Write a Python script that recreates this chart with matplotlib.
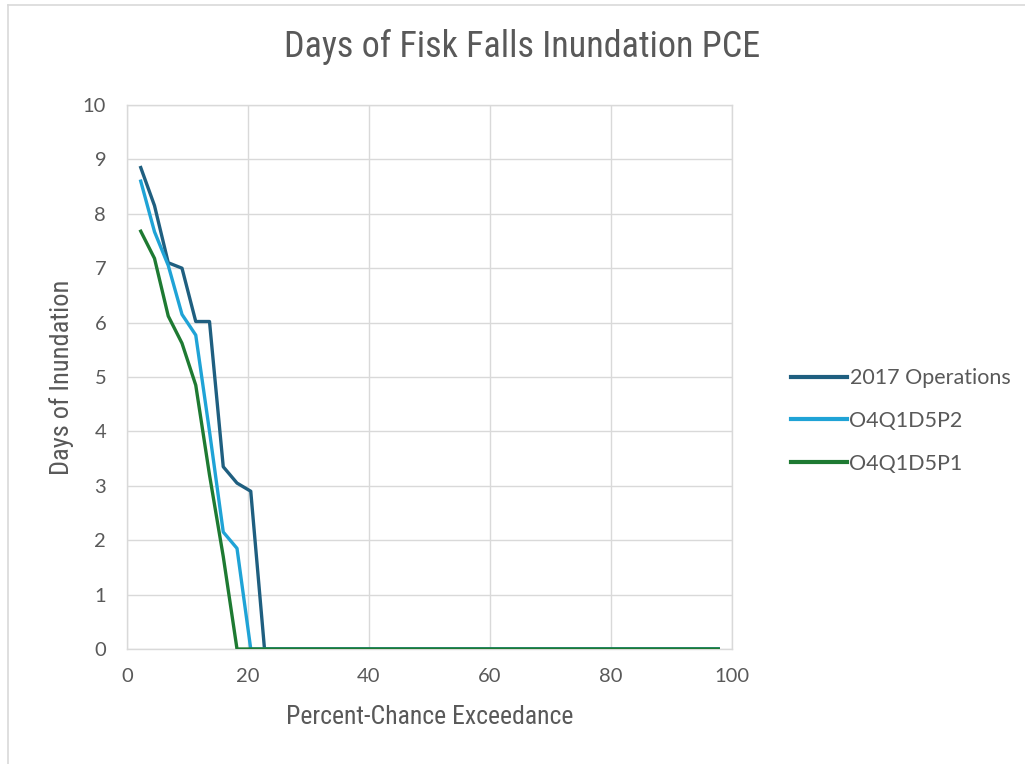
import numpy as np
import matplotlib
matplotlib.use("Agg")
import matplotlib.pyplot as plt
from matplotlib.lines import Line2D

# Weibull plotting positions for 43 ranked years
n_years = 43
pce = [100.0 * i / (n_years + 1) for i in range(1, n_years + 1)]

ops_2017 = [8.85, 8.15, 7.1, 7.0, 6.02, 6.02, 3.35, 3.05, 2.9] + [0.0] * 34
o4q1d5p2 = [8.6, 7.67, 7.05, 6.15, 5.77, 4.0, 2.15, 1.85] + [0.0] * 35
o4q1d5p1 = [7.68, 7.18, 6.12, 5.62, 4.85, 3.2, 1.7] + [0.0] * 36

series_names = ["2017 Operations", "O4Q1D5P2", "O4Q1D5P1"]
series_colors = ["#1f5f80", "#1fa3d6", "#1e7a32"]

x_ticks = [0, 20, 40, 60, 80, 100]
y_ticks = list(range(0, 11))

text_color = "#595959"
grid_color = "#d9d9d9"
narrow = ["Liberation Sans Narrow", "Roboto Condensed", "Liberation Sans", "DejaVu Sans"]
plain = ["Lato", "Liberation Sans", "DejaVu Sans"]

fig = plt.figure(figsize=(10.25, 7.64), dpi=100)
ax = fig.add_axes([127 / 1025, 115 / 764, 605 / 1025, 544 / 764])

for vals, name, col in zip([ops_2017, o4q1d5p2, o4q1d5p1], series_names, series_colors):
    ax.plot(pce, vals, color=col, lw=2.4, label=name, solid_joinstyle="round", zorder=3)

ax.set_xlim(0, 100)
ax.set_ylim(0, 10)
ax.set_xticks(x_ticks)
ax.set_yticks(y_ticks)
ax.grid(True, color=grid_color, lw=1.0, zorder=0)
for sp in ax.spines.values():
    sp.set_color(grid_color)
    sp.set_linewidth(1.0)
ax.tick_params(length=0, labelsize=14.5, labelcolor=text_color)
ax.tick_params(axis="x", pad=14)
ax.tick_params(axis="y", pad=15)
for lab in ax.get_xticklabels() + ax.get_yticklabels():
    lab.set_family(plain)

ax.set_xlabel("Percent-Chance Exceedance", fontsize=18.5, color=text_color,
              family=narrow, labelpad=14)
ax.set_ylabel("Days of Inundation", fontsize=19, color=text_color,
              family=narrow, labelpad=6)

fig.text(522 / 1025, 1 - 47 / 764, "Days of Fisk Falls Inundation PCE",
         ha="center", va="center", fontsize=26, color=text_color, family=narrow)

handles = [Line2D([0], [0], color=c, lw=3.0) for c in series_colors]
leg = fig.legend(handles, series_names, loc="center left",
                 bbox_to_anchor=(772 / 1025, 1 - 421 / 764), frameon=False,
                 handlelength=2.6, handletextpad=0.1, labelspacing=1.05,
                 prop={"family": plain, "size": 15.5})
for t in leg.get_texts():
    t.set_color(text_color)

# chart-area border along the left and top edges
fig.add_artist(Line2D([8 / 1025, 8 / 1025], [0, 1 - 5 / 764],
                      transform=fig.transFigure, color=grid_color, lw=1.2))
fig.add_artist(Line2D([8 / 1025, 1], [1 - 5 / 764, 1 - 5 / 764],
                      transform=fig.transFigure, color=grid_color, lw=1.2))

fig.savefig("out.png", dpi=100, facecolor="white")
